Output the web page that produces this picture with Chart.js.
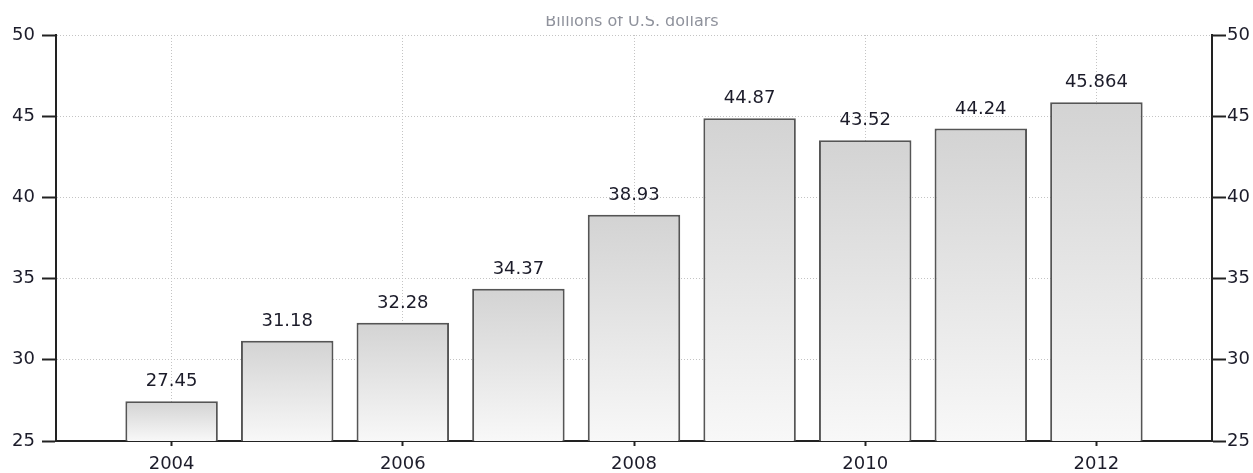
<!DOCTYPE html>
<html><head><meta charset="utf-8">
<script src="https://cdn.jsdelivr.net/npm/chart.js@4.4.1/dist/chart.umd.min.js"></script>
<style>html,body{margin:0;padding:0;background:#fff;overflow:hidden}#wrap{width:1253px;height:473px;position:relative}</style>
</head><body><div id="wrap"><canvas id="c" width="1253" height="473"></canvas></div>
<script>
const years = [2004, 2005, 2006, 2007, 2008, 2009, 2010, 2011, 2012];
const values = [27.45, 31.18, 32.28, 34.37, 38.93, 44.87, 43.52, 44.24, 45.864];
const valueLabels = ['27.45', '31.18', '32.28', '34.37', '38.93', '44.87', '43.52', '44.24', '45.864'];
const xTickValues = [2004, 2006, 2008, 2010, 2012];
const yTickValues = [25, 30, 35, 40, 45, 50];
const unitLabel = 'Billions of U.S. dollars';

const FONT = '"DejaVu Sans", sans-serif';
const TEXT = '#1c1c2a';
const AXIS = '#222222';
const GRID = '#c4c4c4';

Chart.defaults.font.family = FONT;
Chart.defaults.font.size = 18;
Chart.defaults.color = TEXT;

const valueLabelPlugin = {
  id: 'valueLabels',
  afterDatasetsDraw(chart) {
    const ctx = chart.ctx;
    const meta = chart.getDatasetMeta(0);
    ctx.save();
    ctx.font = '18px ' + FONT;
    ctx.fillStyle = TEXT;
    ctx.textAlign = 'center';
    ctx.textBaseline = 'alphabetic';
    meta.data.forEach((el, i) => ctx.fillText(valueLabels[i], el.x, el.y - 15));
    ctx.restore();
  }
};

const unitPlugin = {
  id: 'unitLabel',
  afterDraw(chart) {
    const ctx = chart.ctx;
    const a = chart.chartArea;
    ctx.save();
    ctx.beginPath();
    ctx.rect(0, 16, chart.width, 20);
    ctx.clip();
    ctx.font = '16px ' + FONT;
    ctx.fillStyle = '#8f929c';
    ctx.textAlign = 'center';
    ctx.textBaseline = 'alphabetic';
    ctx.fillText(unitLabel, (a.left + a.right) / 2 - 2, 26);
    ctx.restore();
  }
};

function barGradient(c) {
  const chart = c.chart;
  if (!chart.chartArea || c.type !== 'data' || !c.raw) return '#e2e2e2';
  const ys = chart.scales.y;
  const top = ys.getPixelForValue(c.raw.y);
  const bot = ys.getPixelForValue(ys.min);
  const g = chart.ctx.createLinearGradient(0, top, 0, bot);
  g.addColorStop(0, '#d3d3d3');
  g.addColorStop(1, '#f8f8f8');
  return g;
}

new Chart(document.getElementById('c'), {
  type: 'bar',
  data: {
    datasets: [{
      data: years.map((x, i) => ({ x: x, y: values[i] })),
      xAxisID: 'x',
      yAxisID: 'y',
      backgroundColor: barGradient,
      borderColor: '#555555',
      borderWidth: 2,
      borderSkipped: 'start',
      barPercentage: 0.8,
      categoryPercentage: 1.0
    }]
  },
  options: {
    responsive: false,
    animation: false,
    devicePixelRatio: 1,
    layout: { padding: { top: 35, left: 0, right: 0, bottom: 0 } },
    plugins: { legend: { display: false }, tooltip: { enabled: false }, title: { display: false } },
    scales: {
      x: {
        type: 'linear',
        position: 'bottom',
        offset: false,
        min: 2003,
        max: 2013,
        afterBuildTicks: s => { s.ticks = xTickValues.map(v => ({ value: v })); },
        afterFit: s => { s.height = 32; },
        ticks: { callback: v => String(v), padding: 8, color: TEXT, maxRotation: 0, autoSkip: false },
        grid: { offset: false, color: GRID, lineWidth: 1, drawTicks: true, tickLength: 5, tickColor: AXIS, tickWidth: 2, tickBorderDash: [] },
        border: { display: true, color: AXIS, width: 2, dash: [1, 2] }
      },
      y: {
        type: 'linear',
        position: 'left',
        min: 25,
        max: 50,
        afterBuildTicks: s => { s.ticks = yTickValues.map(v => ({ value: v })); },
        afterFit: s => { s.width = 56; },
        ticks: { padding: 7, color: TEXT },
        grid: { color: GRID, lineWidth: 1, drawTicks: true, tickLength: 14, tickColor: AXIS, tickWidth: 2, tickBorderDash: [] },
        border: { display: true, color: AXIS, width: 2, dash: [1, 2] }
      },
      y2: {
        type: 'linear',
        position: 'right',
        min: 25,
        max: 50,
        afterBuildTicks: s => { s.ticks = yTickValues.map(v => ({ value: v })); },
        afterFit: s => { s.width = 41; },
        ticks: { padding: 1, color: TEXT },
        grid: { drawOnChartArea: false, drawTicks: true, tickLength: 14, tickColor: AXIS, tickWidth: 2, tickBorderDash: [] },
        border: { display: true, color: AXIS, width: 2 }
      }
    }
  },
  plugins: [valueLabelPlugin, unitPlugin]
});
</script>
</body></html>
